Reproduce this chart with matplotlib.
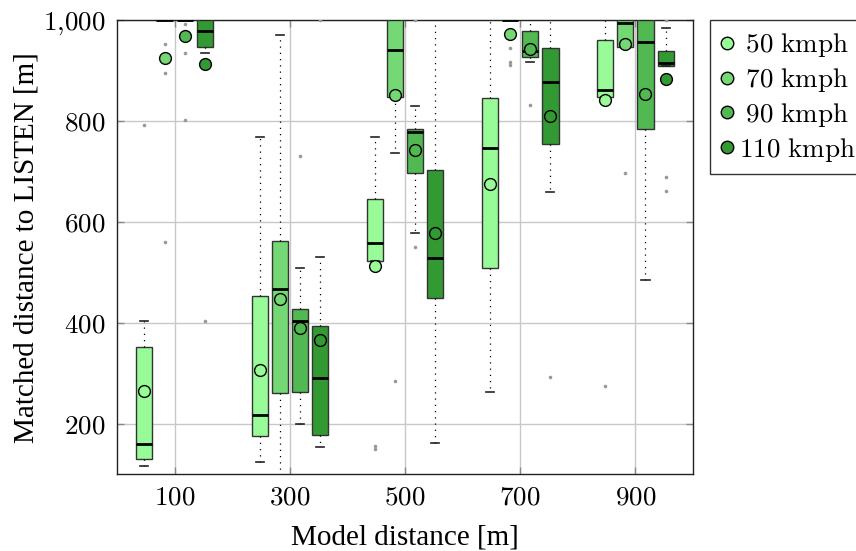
import matplotlib
matplotlib.use("Agg")
import matplotlib.pyplot as plt
from matplotlib.lines import Line2D
from matplotlib.ticker import FuncFormatter

plt.rcParams['mathtext.fontset'] = 'cm'
plt.rcParams['font.family'] = ['Liberation Serif', 'DejaVu Serif']

groups = [100, 300, 500, 700, 900]
speeds = ["50 kmph", "70 kmph", "90 kmph", "110 kmph"]
colors = ["#98fb98", "#74d874", "#52b852", "#339933"]
offsets = [-52.5, -17.5, 17.5, 52.5]

# box statistics per speed, one entry per model distance
q1 = {
    "50 kmph": [130, 176, 523, 509, 849],
    "70 kmph": [1000, 260, 848, 1000, 947],
    "90 kmph": [1000, 263, 697, 928, 784],
    "110 kmph": [948, 178, 449, 754, 910],
}
med = {
    "50 kmph": [160, 218, 558, 746, 863],
    "70 kmph": [1000, 467, 942, 1000, 996],
    "90 kmph": [1000, 403, 779, 940, 958],
    "110 kmph": [980, 291, 529, 878, 916],
}
q3 = {
    "50 kmph": [352, 454, 646, 847, 962],
    "70 kmph": [1000, 563, 1000, 1000, 1000],
    "90 kmph": [1000, 427, 784, 980, 1000],
    "110 kmph": [1000, 394, 704, 945, 940],
}
whislo = {
    "50 kmph": [116, 124, 523, 263, 849],
    "70 kmph": [1000, 80, 738, 1000, 947],
    "90 kmph": [1000, 199, 578, 917, 485],
    "110 kmph": [935, 154, 162, 659, 910],
}
whishi = {
    "50 kmph": [403, 768, 768, 1000, 1000],
    "70 kmph": [1000, 972, 1000, 1000, 1000],
    "90 kmph": [1000, 509, 830, 1000, 1000],
    "110 kmph": [1000, 530, 1000, 1000, 986],
}
means = {
    "50 kmph": [265, 307, 512, 676, 842],
    "70 kmph": [926, 447, 853, 974, 953],
    "90 kmph": [970, 389, 744, 943, 854],
    "110 kmph": [913, 365, 578, 811, 884],
}
fliers = {
    "50 kmph": [[793], [], [150, 155], [], [274]],
    "70 kmph": [[954, 896, 560], [], [285], [946, 918, 911], [697]],
    "90 kmph": [[994, 935, 803], [732], [550, 1000], [833], []],
    "110 kmph": [[404], [1000], [], [293], [1000, 689, 661]],
}

fig = plt.figure(figsize=(8.56, 5.51), dpi=100)
ax = fig.add_axes([0.1367, 0.1397, 0.6729, 0.8231])

for k, sp in enumerate(speeds):
    stats = []
    for i in range(len(groups)):
        stats.append(dict(q1=q1[sp][i], med=med[sp][i], q3=q3[sp][i],
                          whislo=whislo[sp][i], whishi=whishi[sp][i],
                          mean=means[sp][i], fliers=fliers[sp][i]))
    pos = [g + offsets[k] for g in groups]
    ax.bxp(stats, positions=pos, widths=28, capwidths=14, patch_artist=True,
           showmeans=True, manage_ticks=False, zorder=3,
           boxprops=dict(facecolor=colors[k], edgecolor="#333333", linewidth=1),
           medianprops=dict(color="black", linewidth=2),
           whiskerprops=dict(color="black", linewidth=0.9, linestyle=(0, (1, 4))),
           capprops=dict(color="#222222", linewidth=1.2),
           meanprops=dict(marker="o", markersize=8.5, markerfacecolor=colors[k],
                          markeredgecolor="black", markeredgewidth=1),
           flierprops=dict(marker="o", markersize=2.6, markerfacecolor="#999999",
                           markeredgecolor="none"))

ax.set_xlim(0, 1000)
ax.set_ylim(100, 1000)
ax.set_xticks(groups)
ax.set_yticks([200, 400, 600, 800, 1000])
ax.xaxis.set_major_formatter(FuncFormatter(lambda v, p: r"$%d$" % v))
ax.yaxis.set_major_formatter(
    FuncFormatter(lambda v, p: r"$%s$" % f"{int(v):,}".replace(",", "{,}")))
ax.tick_params(direction="in", length=5, width=1, color="#888888",
               labelsize=19.5, top=True, right=True, pad=8)
ax.grid(True, color="#c8c8c8", linewidth=1, zorder=0)
ax.set_axisbelow(True)
for s in ax.spines.values():
    s.set_linewidth(1)
    s.set_color("#222222")

ax.set_xlabel("Model distance [m]", fontsize=21, labelpad=10)
ax.set_ylabel("Matched distance to LISTEN [m]", fontsize=21, labelpad=3)

handles = [Line2D([], [], linestyle="none", marker="o", markersize=9,
                  markerfacecolor=c, markeredgecolor="black", markeredgewidth=1)
           for c in colors]
# short labels get a small lead-in so they sit centred like the long one
labels = [r"$\mathrm{%s%s}$" % (r"\;" if len(sp) < 8 else "", sp.replace(" ", r"\ "))
          for sp in speeds]
leg = ax.legend(handles, labels, loc="upper left", bbox_to_anchor=(1.03, 1.0),
                frameon=True, fancybox=False, fontsize=19.5, handlelength=0.45,
                handletextpad=0.2, borderpad=0.4, labelspacing=0.25,
                borderaxespad=0)
leg.get_frame().set_edgecolor("black")
leg.get_frame().set_linewidth(1)

fig.savefig("out.png", dpi=100)
